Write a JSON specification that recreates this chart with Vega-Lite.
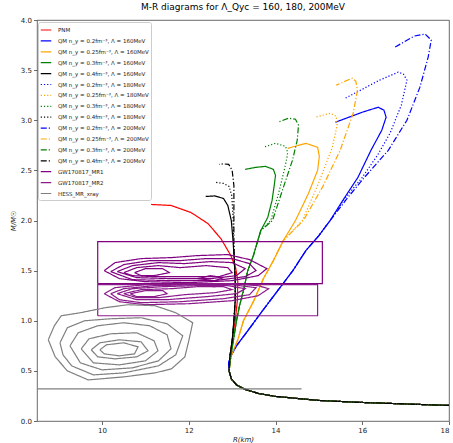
{
"$schema":"https://vega.github.io/schema/vega-lite/v6.json",
"width":412,"height":401,
"autosize":{"type":"none"},
"padding":{"left":37,"top":20,"right":4,"bottom":22},
"title":{"text":"M-R diagrams for Λ_Qyc = 160, 180, 200MeV","fontSize":9,"font":"DejaVu Sans","fontWeight":"normal","color":"#000","offset":4},
"datasets":{
"names":[
{"c":"pnm","s":"PNM"},
{"c":"a160","s":"QM n_y = 0.2fm⁻³, Λ = 160MeV"},
{"c":"b160","s":"QM n_y = 0.25fm⁻³, Λ = 160MeV"},
{"c":"c160","s":"QM n_y = 0.3fm⁻³, Λ = 160MeV"},
{"c":"d160","s":"QM n_y = 0.4fm⁻³, Λ = 160MeV"},
{"c":"a180","s":"QM n_y = 0.2fm⁻³, Λ = 180MeV"},
{"c":"b180","s":"QM n_y = 0.25fm⁻³, Λ = 180MeV"},
{"c":"c180","s":"QM n_y = 0.3fm⁻³, Λ = 180MeV"},
{"c":"d180","s":"QM n_y = 0.4fm⁻³, Λ = 180MeV"},
{"c":"a200","s":"QM n_y = 0.2fm⁻³, Λ = 200MeV"},
{"c":"b200","s":"QM n_y = 0.25fm⁻³, Λ = 200MeV"},
{"c":"c200","s":"QM n_y = 0.3fm⁻³, Λ = 200MeV"},
{"c":"d200","s":"QM n_y = 0.4fm⁻³, Λ = 200MeV"},
{"c":"mr1","s":"GW170817_MR1"},
{"c":"mr2","s":"GW170817_MR2"},
{"c":"hess","s":"HESS_MR_xray"}
],
"pts":[
{"c":"pnm","g":"pnm","R":18,"M":0.155},{"c":"pnm","g":"pnm","R":17,"M":0.17},{"c":"pnm","g":"pnm","R":16,"M":0.185},{"c":"pnm","g":"pnm","R":15,"M":0.205},{"c":"pnm","g":"pnm","R":14.5,"M":0.225},{"c":"pnm","g":"pnm","R":14,"M":0.245},{"c":"pnm","g":"pnm","R":13.6,"M":0.275},{"c":"pnm","g":"pnm","R":13.3,"M":0.315},{"c":"pnm","g":"pnm","R":13.1,"M":0.36},{"c":"pnm","g":"pnm","R":12.98,"M":0.42},{"c":"pnm","g":"pnm","R":12.93,"M":0.5},
{"c":"pnm","g":"pnm","R":12.95,"M":0.65},{"c":"pnm","g":"pnm","R":13.0,"M":0.8},{"c":"pnm","g":"pnm","R":13.07,"M":1.0},{"c":"pnm","g":"pnm","R":13.12,"M":1.2},{"c":"pnm","g":"pnm","R":13.13,"M":1.4},{"c":"pnm","g":"pnm","R":13.08,"M":1.53},{"c":"pnm","g":"pnm","R":12.97,"M":1.65},{"c":"pnm","g":"pnm","R":12.74,"M":1.82},{"c":"pnm","g":"pnm","R":12.44,"M":1.97},{"c":"pnm","g":"pnm","R":12.05,"M":2.08},{"c":"pnm","g":"pnm","R":11.59,"M":2.15},{"c":"pnm","g":"pnm","R":11.13,"M":2.16},

{"c":"a160","g":"a160","R":18,"M":0.155},{"c":"a160","g":"a160","R":17,"M":0.17},{"c":"a160","g":"a160","R":16,"M":0.185},{"c":"a160","g":"a160","R":15,"M":0.205},{"c":"a160","g":"a160","R":14.5,"M":0.225},{"c":"a160","g":"a160","R":14,"M":0.245},{"c":"a160","g":"a160","R":13.6,"M":0.275},{"c":"a160","g":"a160","R":13.3,"M":0.315},{"c":"a160","g":"a160","R":13.1,"M":0.36},{"c":"a160","g":"a160","R":12.98,"M":0.42},{"c":"a160","g":"a160","R":12.93,"M":0.5},
{"c":"a160","g":"a160","R":12.92,"M":0.58},{"c":"a160","g":"a160","R":12.97,"M":0.65},{"c":"a160","g":"a160","R":13.1,"M":0.75},{"c":"a160","g":"a160","R":13.36,"M":0.9},{"c":"a160","g":"a160","R":13.7,"M":1.1},{"c":"a160","g":"a160","R":14.05,"M":1.3},{"c":"a160","g":"a160","R":14.4,"M":1.5},{"c":"a160","g":"a160","R":14.7,"M":1.7},{"c":"a160","g":"a160","R":15.0,"M":1.85},{"c":"a160","g":"a160","R":15.26,"M":2.0},{"c":"a160","g":"a160","R":15.55,"M":2.2},{"c":"a160","g":"a160","R":15.9,"M":2.43},{"c":"a160","g":"a160","R":16.2,"M":2.7},{"c":"a160","g":"a160","R":16.45,"M":2.9},{"c":"a160","g":"a160","R":16.55,"M":3.03},{"c":"a160","g":"a160","R":16.5,"M":3.1},{"c":"a160","g":"a160","R":16.37,"M":3.13},{"c":"a160","g":"a160","R":16.0,"M":3.08},{"c":"a160","g":"a160","R":15.38,"M":2.98},

{"c":"b160","g":"b160","R":18,"M":0.155},{"c":"b160","g":"b160","R":17,"M":0.17},{"c":"b160","g":"b160","R":16,"M":0.185},{"c":"b160","g":"b160","R":15,"M":0.205},{"c":"b160","g":"b160","R":14.5,"M":0.225},{"c":"b160","g":"b160","R":14,"M":0.245},{"c":"b160","g":"b160","R":13.6,"M":0.275},{"c":"b160","g":"b160","R":13.3,"M":0.315},{"c":"b160","g":"b160","R":13.1,"M":0.36},{"c":"b160","g":"b160","R":12.98,"M":0.42},{"c":"b160","g":"b160","R":12.93,"M":0.5},
{"c":"b160","g":"b160","R":12.97,"M":0.64},{"c":"b160","g":"b160","R":13.13,"M":0.81},{"c":"b160","g":"b160","R":13.26,"M":1.0},{"c":"b160","g":"b160","R":13.5,"M":1.2},{"c":"b160","g":"b160","R":13.72,"M":1.42},{"c":"b160","g":"b160","R":13.95,"M":1.6},{"c":"b160","g":"b160","R":14.18,"M":1.8},{"c":"b160","g":"b160","R":14.46,"M":2.0},{"c":"b160","g":"b160","R":14.76,"M":2.27},{"c":"b160","g":"b160","R":14.97,"M":2.5},{"c":"b160","g":"b160","R":15.01,"M":2.64},{"c":"b160","g":"b160","R":14.97,"M":2.73},{"c":"b160","g":"b160","R":14.7,"M":2.77},{"c":"b160","g":"b160","R":14.28,"M":2.72},

{"c":"c160","g":"c160","R":18,"M":0.155},{"c":"c160","g":"c160","R":17,"M":0.17},{"c":"c160","g":"c160","R":16,"M":0.185},{"c":"c160","g":"c160","R":15,"M":0.205},{"c":"c160","g":"c160","R":14.5,"M":0.225},{"c":"c160","g":"c160","R":14,"M":0.245},{"c":"c160","g":"c160","R":13.6,"M":0.275},{"c":"c160","g":"c160","R":13.3,"M":0.315},{"c":"c160","g":"c160","R":13.1,"M":0.36},{"c":"c160","g":"c160","R":12.98,"M":0.42},{"c":"c160","g":"c160","R":12.93,"M":0.5},
{"c":"c160","g":"c160","R":12.97,"M":0.65},{"c":"c160","g":"c160","R":13.03,"M":0.81},{"c":"c160","g":"c160","R":13.1,"M":1.0},{"c":"c160","g":"c160","R":13.17,"M":1.15},{"c":"c160","g":"c160","R":13.26,"M":1.3},{"c":"c160","g":"c160","R":13.36,"M":1.5},{"c":"c160","g":"c160","R":13.49,"M":1.65},{"c":"c160","g":"c160","R":13.66,"M":1.9},{"c":"c160","g":"c160","R":13.82,"M":2.03},{"c":"c160","g":"c160","R":13.92,"M":2.2},{"c":"c160","g":"c160","R":13.97,"M":2.35},{"c":"c160","g":"c160","R":14.0,"M":2.45},{"c":"c160","g":"c160","R":13.95,"M":2.51},{"c":"c160","g":"c160","R":13.77,"M":2.54},{"c":"c160","g":"c160","R":13.54,"M":2.53},{"c":"c160","g":"c160","R":13.3,"M":2.51},

{"c":"d160","g":"d160","R":18,"M":0.155},{"c":"d160","g":"d160","R":17,"M":0.17},{"c":"d160","g":"d160","R":16,"M":0.185},{"c":"d160","g":"d160","R":15,"M":0.205},{"c":"d160","g":"d160","R":14.5,"M":0.225},{"c":"d160","g":"d160","R":14,"M":0.245},{"c":"d160","g":"d160","R":13.6,"M":0.275},{"c":"d160","g":"d160","R":13.3,"M":0.315},{"c":"d160","g":"d160","R":13.1,"M":0.36},{"c":"d160","g":"d160","R":12.98,"M":0.42},{"c":"d160","g":"d160","R":12.93,"M":0.5},
{"c":"d160","g":"d160","R":12.95,"M":0.65},{"c":"d160","g":"d160","R":13.0,"M":0.8},{"c":"d160","g":"d160","R":13.04,"M":1.0},{"c":"d160","g":"d160","R":13.07,"M":1.2},{"c":"d160","g":"d160","R":13.07,"M":1.4},{"c":"d160","g":"d160","R":13.05,"M":1.6},{"c":"d160","g":"d160","R":13.02,"M":1.8},{"c":"d160","g":"d160","R":12.98,"M":2.0},{"c":"d160","g":"d160","R":12.9,"M":2.15},{"c":"d160","g":"d160","R":12.8,"M":2.22},{"c":"d160","g":"d160","R":12.6,"M":2.245},{"c":"d160","g":"d160","R":12.39,"M":2.24},

{"c":"a180","g":"a180","R":18,"M":0.155},{"c":"a180","g":"a180","R":17,"M":0.17},{"c":"a180","g":"a180","R":16,"M":0.185},{"c":"a180","g":"a180","R":15,"M":0.205},{"c":"a180","g":"a180","R":14.5,"M":0.225},{"c":"a180","g":"a180","R":14,"M":0.245},{"c":"a180","g":"a180","R":13.6,"M":0.275},{"c":"a180","g":"a180","R":13.3,"M":0.315},{"c":"a180","g":"a180","R":13.1,"M":0.36},{"c":"a180","g":"a180","R":12.98,"M":0.42},{"c":"a180","g":"a180","R":12.93,"M":0.5},
{"c":"a180","g":"a180","R":12.92,"M":0.58},{"c":"a180","g":"a180","R":12.97,"M":0.65},{"c":"a180","g":"a180","R":13.1,"M":0.75},{"c":"a180","g":"a180","R":13.36,"M":0.9},{"c":"a180","g":"a180","R":13.7,"M":1.1},{"c":"a180","g":"a180","R":14.05,"M":1.3},{"c":"a180","g":"a180","R":14.4,"M":1.5},{"c":"a180","g":"a180","R":14.7,"M":1.7},{"c":"a180","g":"a180","R":15.0,"M":1.85},{"c":"a180","g":"a180","R":15.26,"M":2.0},{"c":"a180","g":"a180","R":15.6,"M":2.22},{"c":"a180","g":"a180","R":16.0,"M":2.43},{"c":"a180","g":"a180","R":16.35,"M":2.65},{"c":"a180","g":"a180","R":16.64,"M":2.87},{"c":"a180","g":"a180","R":16.9,"M":3.15},{"c":"a180","g":"a180","R":17.03,"M":3.4},{"c":"a180","g":"a180","R":16.95,"M":3.46},{"c":"a180","g":"a180","R":16.83,"M":3.48},{"c":"a180","g":"a180","R":16.4,"M":3.4},{"c":"a180","g":"a180","R":15.61,"M":3.22},

{"c":"b180","g":"b180","R":18,"M":0.155},{"c":"b180","g":"b180","R":17,"M":0.17},{"c":"b180","g":"b180","R":16,"M":0.185},{"c":"b180","g":"b180","R":15,"M":0.205},{"c":"b180","g":"b180","R":14.5,"M":0.225},{"c":"b180","g":"b180","R":14,"M":0.245},{"c":"b180","g":"b180","R":13.6,"M":0.275},{"c":"b180","g":"b180","R":13.3,"M":0.315},{"c":"b180","g":"b180","R":13.1,"M":0.36},{"c":"b180","g":"b180","R":12.98,"M":0.42},{"c":"b180","g":"b180","R":12.93,"M":0.5},
{"c":"b180","g":"b180","R":12.97,"M":0.64},{"c":"b180","g":"b180","R":13.13,"M":0.81},{"c":"b180","g":"b180","R":13.26,"M":1.0},{"c":"b180","g":"b180","R":13.5,"M":1.2},{"c":"b180","g":"b180","R":13.72,"M":1.42},{"c":"b180","g":"b180","R":13.95,"M":1.6},{"c":"b180","g":"b180","R":14.18,"M":1.8},{"c":"b180","g":"b180","R":14.62,"M":2.0},{"c":"b180","g":"b180","R":14.99,"M":2.37},{"c":"b180","g":"b180","R":15.31,"M":2.73},{"c":"b180","g":"b180","R":15.42,"M":2.95},{"c":"b180","g":"b180","R":15.4,"M":3.04},{"c":"b180","g":"b180","R":15.26,"M":3.07},{"c":"b180","g":"b180","R":14.92,"M":3.03},

{"c":"c180","g":"c180","R":18,"M":0.155},{"c":"c180","g":"c180","R":17,"M":0.17},{"c":"c180","g":"c180","R":16,"M":0.185},{"c":"c180","g":"c180","R":15,"M":0.205},{"c":"c180","g":"c180","R":14.5,"M":0.225},{"c":"c180","g":"c180","R":14,"M":0.245},{"c":"c180","g":"c180","R":13.6,"M":0.275},{"c":"c180","g":"c180","R":13.3,"M":0.315},{"c":"c180","g":"c180","R":13.1,"M":0.36},{"c":"c180","g":"c180","R":12.98,"M":0.42},{"c":"c180","g":"c180","R":12.93,"M":0.5},
{"c":"c180","g":"c180","R":12.97,"M":0.65},{"c":"c180","g":"c180","R":13.03,"M":0.81},{"c":"c180","g":"c180","R":13.1,"M":1.0},{"c":"c180","g":"c180","R":13.17,"M":1.15},{"c":"c180","g":"c180","R":13.26,"M":1.3},{"c":"c180","g":"c180","R":13.36,"M":1.5},{"c":"c180","g":"c180","R":13.49,"M":1.65},{"c":"c180","g":"c180","R":13.66,"M":1.9},{"c":"c180","g":"c180","R":13.89,"M":2.0},{"c":"c180","g":"c180","R":14.07,"M":2.27},{"c":"c180","g":"c180","R":14.2,"M":2.5},{"c":"c180","g":"c180","R":14.26,"M":2.62},{"c":"c180","g":"c180","R":14.28,"M":2.68},{"c":"c180","g":"c180","R":14.23,"M":2.74},{"c":"c180","g":"c180","R":14.0,"M":2.77},{"c":"c180","g":"c180","R":13.72,"M":2.73},

{"c":"d180","g":"d180","R":18,"M":0.155},{"c":"d180","g":"d180","R":17,"M":0.17},{"c":"d180","g":"d180","R":16,"M":0.185},{"c":"d180","g":"d180","R":15,"M":0.205},{"c":"d180","g":"d180","R":14.5,"M":0.225},{"c":"d180","g":"d180","R":14,"M":0.245},{"c":"d180","g":"d180","R":13.6,"M":0.275},{"c":"d180","g":"d180","R":13.3,"M":0.315},{"c":"d180","g":"d180","R":13.1,"M":0.36},{"c":"d180","g":"d180","R":12.98,"M":0.42},{"c":"d180","g":"d180","R":12.93,"M":0.5},
{"c":"d180","g":"d180","R":12.95,"M":0.65},{"c":"d180","g":"d180","R":13.0,"M":0.8},{"c":"d180","g":"d180","R":13.04,"M":1.0},{"c":"d180","g":"d180","R":13.07,"M":1.2},{"c":"d180","g":"d180","R":13.07,"M":1.4},{"c":"d180","g":"d180","R":13.05,"M":1.6},{"c":"d180","g":"d180","R":13.03,"M":1.8},{"c":"d180","g":"d180","R":13.02,"M":2.05},{"c":"d180","g":"d180","R":12.99,"M":2.25},{"c":"d180","g":"d180","R":12.93,"M":2.34},{"c":"d180","g":"d180","R":12.8,"M":2.37},{"c":"d180","g":"d180","R":12.62,"M":2.38},

{"c":"a200","g":"a200","R":18,"M":0.155},{"c":"a200","g":"a200","R":17,"M":0.17},{"c":"a200","g":"a200","R":16,"M":0.185},{"c":"a200","g":"a200","R":15,"M":0.205},{"c":"a200","g":"a200","R":14.5,"M":0.225},{"c":"a200","g":"a200","R":14,"M":0.245},{"c":"a200","g":"a200","R":13.6,"M":0.275},{"c":"a200","g":"a200","R":13.3,"M":0.315},{"c":"a200","g":"a200","R":13.1,"M":0.36},{"c":"a200","g":"a200","R":12.98,"M":0.42},{"c":"a200","g":"a200","R":12.93,"M":0.5},
{"c":"a200","g":"a200","R":12.92,"M":0.58},{"c":"a200","g":"a200","R":12.97,"M":0.65},{"c":"a200","g":"a200","R":13.1,"M":0.75},{"c":"a200","g":"a200","R":13.36,"M":0.9},{"c":"a200","g":"a200","R":13.7,"M":1.1},{"c":"a200","g":"a200","R":14.05,"M":1.3},{"c":"a200","g":"a200","R":14.4,"M":1.5},{"c":"a200","g":"a200","R":14.7,"M":1.7},{"c":"a200","g":"a200","R":15.0,"M":1.85},{"c":"a200","g":"a200","R":15.26,"M":2.0},{"c":"a200","g":"a200","R":15.65,"M":2.22},{"c":"a200","g":"a200","R":16.05,"M":2.43},{"c":"a200","g":"a200","R":16.6,"M":2.7},{"c":"a200","g":"a200","R":17.03,"M":3.0},{"c":"a200","g":"a200","R":17.33,"M":3.33},{"c":"a200","g":"a200","R":17.52,"M":3.63},{"c":"a200","g":"a200","R":17.59,"M":3.8},{"c":"a200","g":"a200","R":17.45,"M":3.86},{"c":"a200","g":"a200","R":17.2,"M":3.84},{"c":"a200","g":"a200","R":16.76,"M":3.73},

{"c":"b200","g":"b200","R":18,"M":0.155},{"c":"b200","g":"b200","R":17,"M":0.17},{"c":"b200","g":"b200","R":16,"M":0.185},{"c":"b200","g":"b200","R":15,"M":0.205},{"c":"b200","g":"b200","R":14.5,"M":0.225},{"c":"b200","g":"b200","R":14,"M":0.245},{"c":"b200","g":"b200","R":13.6,"M":0.275},{"c":"b200","g":"b200","R":13.3,"M":0.315},{"c":"b200","g":"b200","R":13.1,"M":0.36},{"c":"b200","g":"b200","R":12.98,"M":0.42},{"c":"b200","g":"b200","R":12.93,"M":0.5},
{"c":"b200","g":"b200","R":12.97,"M":0.64},{"c":"b200","g":"b200","R":13.13,"M":0.81},{"c":"b200","g":"b200","R":13.26,"M":1.0},{"c":"b200","g":"b200","R":13.5,"M":1.2},{"c":"b200","g":"b200","R":13.72,"M":1.42},{"c":"b200","g":"b200","R":13.95,"M":1.6},{"c":"b200","g":"b200","R":14.18,"M":1.8},{"c":"b200","g":"b200","R":14.64,"M":2.0},{"c":"b200","g":"b200","R":15.08,"M":2.33},{"c":"b200","g":"b200","R":15.49,"M":2.7},{"c":"b200","g":"b200","R":15.79,"M":3.07},{"c":"b200","g":"b200","R":15.89,"M":3.3},{"c":"b200","g":"b200","R":15.85,"M":3.39},{"c":"b200","g":"b200","R":15.77,"M":3.42},{"c":"b200","g":"b200","R":15.4,"M":3.35},

{"c":"c200","g":"c200","R":18,"M":0.155},{"c":"c200","g":"c200","R":17,"M":0.17},{"c":"c200","g":"c200","R":16,"M":0.185},{"c":"c200","g":"c200","R":15,"M":0.205},{"c":"c200","g":"c200","R":14.5,"M":0.225},{"c":"c200","g":"c200","R":14,"M":0.245},{"c":"c200","g":"c200","R":13.6,"M":0.275},{"c":"c200","g":"c200","R":13.3,"M":0.315},{"c":"c200","g":"c200","R":13.1,"M":0.36},{"c":"c200","g":"c200","R":12.98,"M":0.42},{"c":"c200","g":"c200","R":12.93,"M":0.5},
{"c":"c200","g":"c200","R":12.97,"M":0.65},{"c":"c200","g":"c200","R":13.03,"M":0.81},{"c":"c200","g":"c200","R":13.1,"M":1.0},{"c":"c200","g":"c200","R":13.17,"M":1.15},{"c":"c200","g":"c200","R":13.26,"M":1.3},{"c":"c200","g":"c200","R":13.36,"M":1.5},{"c":"c200","g":"c200","R":13.49,"M":1.65},{"c":"c200","g":"c200","R":13.66,"M":1.9},{"c":"c200","g":"c200","R":13.93,"M":2.0},{"c":"c200","g":"c200","R":14.18,"M":2.33},{"c":"c200","g":"c200","R":14.39,"M":2.6},{"c":"c200","g":"c200","R":14.5,"M":2.8},{"c":"c200","g":"c200","R":14.53,"M":2.95},{"c":"c200","g":"c200","R":14.46,"M":3.01},{"c":"c200","g":"c200","R":14.3,"M":3.02},{"c":"c200","g":"c200","R":14.05,"M":2.98},

{"c":"d200","g":"d200","R":18,"M":0.155},{"c":"d200","g":"d200","R":17,"M":0.17},{"c":"d200","g":"d200","R":16,"M":0.185},{"c":"d200","g":"d200","R":15,"M":0.205},{"c":"d200","g":"d200","R":14.5,"M":0.225},{"c":"d200","g":"d200","R":14,"M":0.245},{"c":"d200","g":"d200","R":13.6,"M":0.275},{"c":"d200","g":"d200","R":13.3,"M":0.315},{"c":"d200","g":"d200","R":13.1,"M":0.36},{"c":"d200","g":"d200","R":12.98,"M":0.42},{"c":"d200","g":"d200","R":12.93,"M":0.5},
{"c":"d200","g":"d200","R":12.95,"M":0.65},{"c":"d200","g":"d200","R":13.0,"M":0.8},{"c":"d200","g":"d200","R":13.04,"M":1.0},{"c":"d200","g":"d200","R":13.07,"M":1.2},{"c":"d200","g":"d200","R":13.07,"M":1.4},{"c":"d200","g":"d200","R":13.05,"M":1.6},{"c":"d200","g":"d200","R":13.04,"M":1.8},{"c":"d200","g":"d200","R":13.04,"M":2.1},{"c":"d200","g":"d200","R":13.04,"M":2.35},{"c":"d200","g":"d200","R":13.0,"M":2.5},{"c":"d200","g":"d200","R":12.92,"M":2.56},{"c":"d200","g":"d200","R":12.8,"M":2.565},{"c":"d200","g":"d200","R":12.7,"M":2.56},

{"c":"mr1","g":"m1r","R":9.9,"M":1.37},{"c":"mr1","g":"m1r","R":15.08,"M":1.37},{"c":"mr1","g":"m1r","R":15.08,"M":1.79},{"c":"mr1","g":"m1r","R":9.9,"M":1.79},{"c":"mr1","g":"m1r","R":9.9,"M":1.37},
{"c":"mr1","g":"m11","R":10.05,"M":1.5},{"c":"mr1","g":"m11","R":10.3,"M":1.58},{"c":"mr1","g":"m11","R":10.9,"M":1.62},{"c":"mr1","g":"m11","R":11.6,"M":1.63},{"c":"mr1","g":"m11","R":12.2,"M":1.65},{"c":"mr1","g":"m11","R":12.9,"M":1.66},{"c":"mr1","g":"m11","R":13.4,"M":1.61},{"c":"mr1","g":"m11","R":13.8,"M":1.52},{"c":"mr1","g":"m11","R":13.6,"M":1.45},{"c":"mr1","g":"m11","R":13.0,"M":1.4},{"c":"mr1","g":"m11","R":12.0,"M":1.38},{"c":"mr1","g":"m11","R":11.0,"M":1.39},{"c":"mr1","g":"m11","R":10.4,"M":1.42},{"c":"mr1","g":"m11","R":10.05,"M":1.5},
{"c":"mr1","g":"m12","R":10.2,"M":1.49},{"c":"mr1","g":"m12","R":10.5,"M":1.56},{"c":"mr1","g":"m12","R":11.1,"M":1.6},{"c":"mr1","g":"m12","R":11.8,"M":1.6},{"c":"mr1","g":"m12","R":12.4,"M":1.62},{"c":"mr1","g":"m12","R":13.0,"M":1.62},{"c":"mr1","g":"m12","R":13.4,"M":1.57},{"c":"mr1","g":"m12","R":13.55,"M":1.5},{"c":"mr1","g":"m12","R":13.3,"M":1.44},{"c":"mr1","g":"m12","R":12.6,"M":1.4},{"c":"mr1","g":"m12","R":11.6,"M":1.4},{"c":"mr1","g":"m12","R":10.7,"M":1.41},{"c":"mr1","g":"m12","R":10.2,"M":1.49},
{"c":"mr1","g":"m13","R":10.35,"M":1.49},{"c":"mr1","g":"m13","R":10.7,"M":1.55},{"c":"mr1","g":"m13","R":11.3,"M":1.58},{"c":"mr1","g":"m13","R":11.9,"M":1.57},{"c":"mr1","g":"m13","R":12.5,"M":1.59},{"c":"mr1","g":"m13","R":13.0,"M":1.58},{"c":"mr1","g":"m13","R":13.3,"M":1.52},{"c":"mr1","g":"m13","R":13.1,"M":1.45},{"c":"mr1","g":"m13","R":12.5,"M":1.42},{"c":"mr1","g":"m13","R":11.6,"M":1.42},{"c":"mr1","g":"m13","R":10.8,"M":1.43},{"c":"mr1","g":"m13","R":10.35,"M":1.49},
{"c":"mr1","g":"m14","R":10.5,"M":1.48},{"c":"mr1","g":"m14","R":10.8,"M":1.53},{"c":"mr1","g":"m14","R":11.3,"M":1.55},{"c":"mr1","g":"m14","R":11.8,"M":1.53},{"c":"mr1","g":"m14","R":12.4,"M":1.55},{"c":"mr1","g":"m14","R":12.9,"M":1.53},{"c":"mr1","g":"m14","R":13.0,"M":1.48},{"c":"mr1","g":"m14","R":12.7,"M":1.44},{"c":"mr1","g":"m14","R":12.0,"M":1.44},{"c":"mr1","g":"m14","R":11.2,"M":1.44},{"c":"mr1","g":"m14","R":10.7,"M":1.45},{"c":"mr1","g":"m14","R":10.5,"M":1.48},
{"c":"mr1","g":"m15","R":10.75,"M":1.48},{"c":"mr1","g":"m15","R":11.0,"M":1.52},{"c":"mr1","g":"m15","R":11.4,"M":1.52},{"c":"mr1","g":"m15","R":11.55,"M":1.48},{"c":"mr1","g":"m15","R":11.2,"M":1.45},{"c":"mr1","g":"m15","R":10.9,"M":1.45},{"c":"mr1","g":"m15","R":10.75,"M":1.48},
{"c":"mr1","g":"m16","R":12.2,"M":1.42},{"c":"mr1","g":"m16","R":12.5,"M":1.45},{"c":"mr1","g":"m16","R":12.8,"M":1.43},{"c":"mr1","g":"m16","R":12.6,"M":1.4},{"c":"mr1","g":"m16","R":12.2,"M":1.42},

{"c":"mr2","g":"m2r","R":9.9,"M":1.05},{"c":"mr2","g":"m2r","R":14.97,"M":1.05},{"c":"mr2","g":"m2r","R":14.97,"M":1.36},{"c":"mr2","g":"m2r","R":9.9,"M":1.36},{"c":"mr2","g":"m2r","R":9.9,"M":1.05},
{"c":"mr2","g":"m21","R":10.05,"M":1.27},{"c":"mr2","g":"m21","R":10.3,"M":1.33},{"c":"mr2","g":"m21","R":11.0,"M":1.36},{"c":"mr2","g":"m21","R":12.0,"M":1.37},{"c":"mr2","g":"m21","R":13.0,"M":1.37},{"c":"mr2","g":"m21","R":13.6,"M":1.35},{"c":"mr2","g":"m21","R":13.84,"M":1.32},{"c":"mr2","g":"m21","R":13.6,"M":1.25},{"c":"mr2","g":"m21","R":13.0,"M":1.2},{"c":"mr2","g":"m21","R":12.0,"M":1.17},{"c":"mr2","g":"m21","R":11.0,"M":1.16},{"c":"mr2","g":"m21","R":10.4,"M":1.19},{"c":"mr2","g":"m21","R":10.05,"M":1.27},
{"c":"mr2","g":"m22","R":10.2,"M":1.27},{"c":"mr2","g":"m22","R":10.5,"M":1.32},{"c":"mr2","g":"m22","R":11.2,"M":1.35},{"c":"mr2","g":"m22","R":12.2,"M":1.36},{"c":"mr2","g":"m22","R":13.0,"M":1.36},{"c":"mr2","g":"m22","R":13.55,"M":1.33},{"c":"mr2","g":"m22","R":13.4,"M":1.26},{"c":"mr2","g":"m22","R":12.8,"M":1.22},{"c":"mr2","g":"m22","R":11.8,"M":1.19},{"c":"mr2","g":"m22","R":10.9,"M":1.18},{"c":"mr2","g":"m22","R":10.4,"M":1.21},{"c":"mr2","g":"m22","R":10.2,"M":1.27},
{"c":"mr2","g":"m23","R":10.35,"M":1.27},{"c":"mr2","g":"m23","R":10.7,"M":1.32},{"c":"mr2","g":"m23","R":11.4,"M":1.34},{"c":"mr2","g":"m23","R":12.2,"M":1.35},{"c":"mr2","g":"m23","R":12.9,"M":1.35},{"c":"mr2","g":"m23","R":13.3,"M":1.32},{"c":"mr2","g":"m23","R":13.1,"M":1.27},{"c":"mr2","g":"m23","R":12.4,"M":1.24},{"c":"mr2","g":"m23","R":11.5,"M":1.21},{"c":"mr2","g":"m23","R":10.8,"M":1.21},{"c":"mr2","g":"m23","R":10.35,"M":1.27},
{"c":"mr2","g":"m24","R":10.5,"M":1.27},{"c":"mr2","g":"m24","R":10.9,"M":1.31},{"c":"mr2","g":"m24","R":11.6,"M":1.32},{"c":"mr2","g":"m24","R":12.2,"M":1.34},{"c":"mr2","g":"m24","R":12.8,"M":1.34},{"c":"mr2","g":"m24","R":13.0,"M":1.31},{"c":"mr2","g":"m24","R":12.6,"M":1.28},{"c":"mr2","g":"m24","R":11.9,"M":1.26},{"c":"mr2","g":"m24","R":11.3,"M":1.23},{"c":"mr2","g":"m24","R":10.8,"M":1.23},{"c":"mr2","g":"m24","R":10.5,"M":1.27},
{"c":"mr2","g":"m25","R":10.65,"M":1.27},{"c":"mr2","g":"m25","R":11.0,"M":1.3},{"c":"mr2","g":"m25","R":11.4,"M":1.3},{"c":"mr2","g":"m25","R":11.5,"M":1.27},{"c":"mr2","g":"m25","R":11.2,"M":1.24},{"c":"mr2","g":"m25","R":10.8,"M":1.24},{"c":"mr2","g":"m25","R":10.65,"M":1.27},
{"c":"mr2","g":"m26","R":12.2,"M":1.35},{"c":"mr2","g":"m26","R":12.5,"M":1.37},{"c":"mr2","g":"m26","R":12.8,"M":1.36},{"c":"mr2","g":"m26","R":12.6,"M":1.34},{"c":"mr2","g":"m26","R":12.2,"M":1.35},

{"c":"hess","g":"hl","R":8.5,"M":0.32},{"c":"hess","g":"hl","R":14.6,"M":0.32},
{"c":"hess","g":"h1","R":8.76,"M":0.81},{"c":"hess","g":"h1","R":8.9,"M":0.95},{"c":"hess","g":"h1","R":9.06,"M":1.05},{"c":"hess","g":"h1","R":9.5,"M":1.08},{"c":"hess","g":"h1","R":10.07,"M":1.13},{"c":"hess","g":"h1","R":10.6,"M":1.16},{"c":"hess","g":"h1","R":11.22,"M":1.15},{"c":"hess","g":"h1","R":11.7,"M":1.08},{"c":"hess","g":"h1","R":12.09,"M":0.98},{"c":"hess","g":"h1","R":12.0,"M":0.8},{"c":"hess","g":"h1","R":11.91,"M":0.64},{"c":"hess","g":"h1","R":11.6,"M":0.52},{"c":"hess","g":"h1","R":11.22,"M":0.48},{"c":"hess","g":"h1","R":10.5,"M":0.44},{"c":"hess","g":"h1","R":9.68,"M":0.41},{"c":"hess","g":"h1","R":9.2,"M":0.5},{"c":"hess","g":"h1","R":8.92,"M":0.64},{"c":"hess","g":"h1","R":8.76,"M":0.81},
{"c":"hess","g":"h2","R":9.03,"M":0.78},{"c":"hess","g":"h2","R":9.2,"M":0.93},{"c":"hess","g":"h2","R":9.6,"M":1.0},{"c":"hess","g":"h2","R":10.2,"M":1.02},{"c":"hess","g":"h2","R":10.9,"M":1.03},{"c":"hess","g":"h2","R":11.5,"M":0.97},{"c":"hess","g":"h2","R":11.86,"M":0.85},{"c":"hess","g":"h2","R":11.7,"M":0.66},{"c":"hess","g":"h2","R":11.3,"M":0.55},{"c":"hess","g":"h2","R":10.5,"M":0.48},{"c":"hess","g":"h2","R":9.8,"M":0.46},{"c":"hess","g":"h2","R":9.3,"M":0.55},{"c":"hess","g":"h2","R":9.1,"M":0.66},{"c":"hess","g":"h2","R":9.03,"M":0.78},
{"c":"hess","g":"h3","R":9.26,"M":0.75},{"c":"hess","g":"h3","R":9.45,"M":0.88},{"c":"hess","g":"h3","R":9.9,"M":0.95},{"c":"hess","g":"h3","R":10.5,"M":0.98},{"c":"hess","g":"h3","R":11.1,"M":0.95},{"c":"hess","g":"h3","R":11.5,"M":0.86},{"c":"hess","g":"h3","R":11.59,"M":0.72},{"c":"hess","g":"h3","R":11.3,"M":0.6},{"c":"hess","g":"h3","R":10.7,"M":0.53},{"c":"hess","g":"h3","R":10.0,"M":0.51},{"c":"hess","g":"h3","R":9.5,"M":0.58},{"c":"hess","g":"h3","R":9.26,"M":0.75},
{"c":"hess","g":"h4","R":9.52,"M":0.72},{"c":"hess","g":"h4","R":9.7,"M":0.82},{"c":"hess","g":"h4","R":10.2,"M":0.87},{"c":"hess","g":"h4","R":10.8,"M":0.88},{"c":"hess","g":"h4","R":11.2,"M":0.8},{"c":"hess","g":"h4","R":11.29,"M":0.7},{"c":"hess","g":"h4","R":11.0,"M":0.6},{"c":"hess","g":"h4","R":10.4,"M":0.56},{"c":"hess","g":"h4","R":9.8,"M":0.58},{"c":"hess","g":"h4","R":9.52,"M":0.72},
{"c":"hess","g":"h5","R":9.75,"M":0.71},{"c":"hess","g":"h5","R":9.95,"M":0.78},{"c":"hess","g":"h5","R":10.4,"M":0.81},{"c":"hess","g":"h5","R":10.9,"M":0.79},{"c":"hess","g":"h5","R":11.06,"M":0.7},{"c":"hess","g":"h5","R":10.8,"M":0.64},{"c":"hess","g":"h5","R":10.3,"M":0.62},{"c":"hess","g":"h5","R":9.9,"M":0.64},{"c":"hess","g":"h5","R":9.75,"M":0.71},
{"c":"hess","g":"h6","R":9.95,"M":0.71},{"c":"hess","g":"h6","R":10.1,"M":0.76},{"c":"hess","g":"h6","R":10.5,"M":0.78},{"c":"hess","g":"h6","R":10.83,"M":0.74},{"c":"hess","g":"h6","R":10.75,"M":0.67},{"c":"hess","g":"h6","R":10.4,"M":0.65},{"c":"hess","g":"h6","R":10.05,"M":0.67},{"c":"hess","g":"h6","R":9.95,"M":0.71}
]
},
"data":{"name":"pts"},
"transform":[{"lookup":"c","from":{"data":{"name":"names"},"key":"c","fields":["s"]}}],
"mark":{"type":"line","strokeWidth":1.2,"clip":true},
"encoding":{
"x":{"field":"R","type":"quantitative","scale":{"domain":[8.5,18],"nice":false,"zero":false},"axis":{"values":[10,12,14,16,18],"title":"R(km)","titleFontStyle":"italic"}},
"y":{"field":"M","type":"quantitative","scale":{"domain":[0,4],"nice":false},"axis":{"values":[0,0.5,1,1.5,2,2.5,3,3.5,4],"format":".1f","title":"M/M☉","titleFontStyle":"italic"}},
"detail":{"field":"g"},
"order":{"value":null},
"color":{"field":"s","type":"nominal","title":null,
"scale":{"domain":["PNM","QM n_y = 0.2fm⁻³, Λ = 160MeV","QM n_y = 0.25fm⁻³, Λ = 160MeV","QM n_y = 0.3fm⁻³, Λ = 160MeV","QM n_y = 0.4fm⁻³, Λ = 160MeV","QM n_y = 0.2fm⁻³, Λ = 180MeV","QM n_y = 0.25fm⁻³, Λ = 180MeV","QM n_y = 0.3fm⁻³, Λ = 180MeV","QM n_y = 0.4fm⁻³, Λ = 180MeV","QM n_y = 0.2fm⁻³, Λ = 200MeV","QM n_y = 0.25fm⁻³, Λ = 200MeV","QM n_y = 0.3fm⁻³, Λ = 200MeV","QM n_y = 0.4fm⁻³, Λ = 200MeV","GW170817_MR1","GW170817_MR2","HESS_MR_xray"],
"range":["#ff0000","#0000ff","#ffa500","#008000","#000000","#0000ff","#ffa500","#008000","#000000","#0000ff","#ffa500","#008000","#000000","#800080","#8b1a8b","#808080"]}},
"strokeDash":{"field":"s","type":"nominal","title":null,
"scale":{"domain":["PNM","QM n_y = 0.2fm⁻³, Λ = 160MeV","QM n_y = 0.25fm⁻³, Λ = 160MeV","QM n_y = 0.3fm⁻³, Λ = 160MeV","QM n_y = 0.4fm⁻³, Λ = 160MeV","QM n_y = 0.2fm⁻³, Λ = 180MeV","QM n_y = 0.25fm⁻³, Λ = 180MeV","QM n_y = 0.3fm⁻³, Λ = 180MeV","QM n_y = 0.4fm⁻³, Λ = 180MeV","QM n_y = 0.2fm⁻³, Λ = 200MeV","QM n_y = 0.25fm⁻³, Λ = 200MeV","QM n_y = 0.3fm⁻³, Λ = 200MeV","QM n_y = 0.4fm⁻³, Λ = 200MeV","GW170817_MR1","GW170817_MR2","HESS_MR_xray"],
"range":[[1,0],[1,0],[1,0],[1,0],[1,0],[1.2,2],[1.2,2],[1.2,2],[1.2,2],[6,2,1.2,2],[6,2,1.2,2],[6,2,1.2,2],[6,2,1.2,2],[1,0],[1,0],[1,0]]}}
},
"config":{
"view":{"stroke":"#444444","strokeWidth":0.8},
"axis":{"domain":false,"grid":false,"ticks":true,"tickColor":"#444444","tickSize":3.5,"tickWidth":0.8,"labelFont":"DejaVu Sans","labelFontSize":7,"labelColor":"#222222","labelPadding":2,"titleFont":"DejaVu Sans","titleFontSize":7,"titleFontWeight":"normal","titleColor":"#222222"},
"axisX":{"titlePadding":2},
"axisY":{"titlePadding":4,"labelFlush":false},
"legend":{"orient":"none","legendX":1,"legendY":2,"padding":2,"strokeColor":"#cccccc","fillColor":"#ffffff","cornerRadius":2,"symbolType":"stroke","symbolSize":110,"symbolStrokeWidth":1.2,"labelFont":"DejaVu Sans","labelFontSize":5.5,"labelColor":"#222222","labelOffset":6,"labelLimit":300,"rowPadding":0.9,"titlePadding":0}
}
}
